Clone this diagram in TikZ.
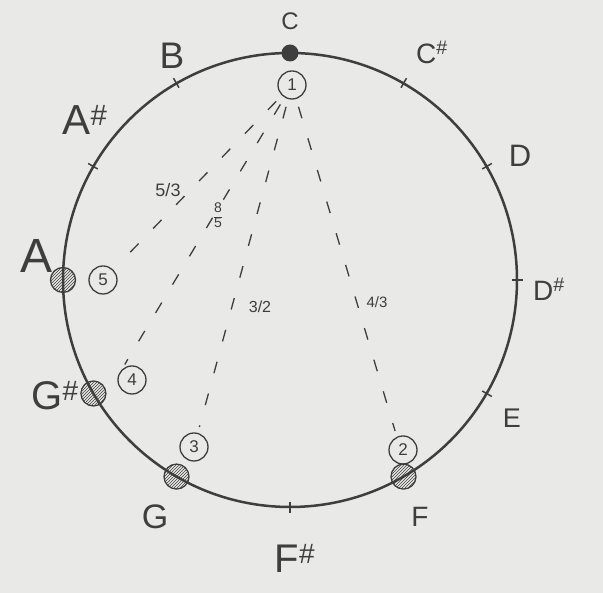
\documentclass[tikz,border=0pt]{standalone}
\usepackage{fontspec}
\setmainfont{Liberation Sans}
\usetikzlibrary{patterns}
\definecolor{paper}{RGB}{233,233,231}
\definecolor{ink}{RGB}{62,62,62}
\begin{document}
\begin{tikzpicture}[x=1pt,y=1pt,
  note/.style={text=ink, inner sep=0pt},
  num/.style={draw=ink, line width=1.3pt, circle, minimum size=28pt, inner sep=0pt, text=ink, font=\fontsize{17}{17}\selectfont},
  hdot/.style={draw=ink, line width=1.3pt, circle, minimum size=25pt, inner sep=0pt, pattern=north east lines, pattern color=ink},
  sdot/.style={fill=ink, circle, minimum size=17pt, inner sep=0pt},
  ratio/.style={dash pattern=on 12pt off 21pt, line width=1.3pt, draw=ink, shorten <=8pt, shorten >=6pt},
  fraclab/.style={text=ink, inner sep=0pt, font=\fontsize{16}{16}\selectfont},
  tickmark/.style={line width=1.5pt, draw=ink}
]
\fill[paper] (0,0) rectangle (603,593);
\useasboundingbox (0,0) rectangle (603,593);
\coordinate (O) at (290,313);
\draw[ink, line width=2.5pt] (O) circle (227);
\foreach \a in {60,30,0,-30,-90,150,120}
  \draw[tickmark] ([shift={(\a:222)}]O) -- ([shift={(\a:233)}]O);

% note dots on the circle
\node[sdot] (dC) at ([shift={(90:227)}]O) {};
\node[hdot] (dF) at ([shift={(-60:227)}]O) {};
\node[hdot] (dG) at ([shift={(-120:227)}]O) {};
\node[hdot] (dGs) at ([shift={(-150:227)}]O) {};
\node[hdot] (dA) at ([shift={(180:227)}]O) {};

% numbered circles
\node[num] (n1) at (292,508) {1};
\node[num] (n2) at (403,143) {2};
\node[num] (n3) at (194,146) {3};
\node[num] (n4) at (132,213) {4};
\node[num] (n5) at (103,313) {5};

% ratio lines
\draw[ratio] (n1) -- (n5.45);
\draw[ratio] (n1) -- (n4.135);
\draw[ratio] (n1) -- (n3.75);
\draw[ratio] (n1) -- (n2.115);

% ratio labels
\node[fraclab, font=\fontsize{18}{18}\selectfont] (r53) at (168,403) {5/3};
\node[fraclab, font=\fontsize{14}{14}\selectfont] (r85) at (218,376)
  {\renewcommand{\arraystretch}{0.85}\setlength{\arrayrulewidth}{1pt}\begin{tabular}{@{}c@{}}8\\\hline 5\end{tabular}};
\node[fraclab] (r32) at (260,286) {3/2};
\node[fraclab, font=\fontsize{15}{15}\selectfont] (r43) at (377,291) {4/3};

% note names
\node[note, font=\fontsize{24}{24}\selectfont] (lC) at (290,572) {C};
\node[note, font=\fontsize{28}{28}\selectfont] (lCs) at (432,541) {C\textsuperscript{\#}};
\node[note, font=\fontsize{31}{31}\selectfont] (lD) at (520,437) {D};
\node[note, font=\fontsize{28}{28}\selectfont] (lDs) at (549,304) {D\textsuperscript{\#}};
\node[note, font=\fontsize{27}{27}\selectfont] (lE) at (512,175) {E};
\node[note, font=\fontsize{28}{28}\selectfont] (lF) at (420,76) {F};
\node[note, font=\fontsize{40}{40}\selectfont] (lFs) at (295,35) {F\textsuperscript{\#}};
\node[note, font=\fontsize{34}{34}\selectfont] (lG) at (155,76) {G};
\node[note, font=\fontsize{40}{40}\selectfont] (lGs) at (55,197) {G\textsuperscript{\#}};
\node[note, font=\fontsize{48}{48}\selectfont] (lA) at (37,337) {A};
\node[note, font=\fontsize{42}{42}\selectfont] (lAs) at (85,473) {A\textsuperscript{\#}};
\node[note, font=\fontsize{37}{37}\selectfont] (lB) at (172,537) {B};
\end{tikzpicture}
\end{document}
